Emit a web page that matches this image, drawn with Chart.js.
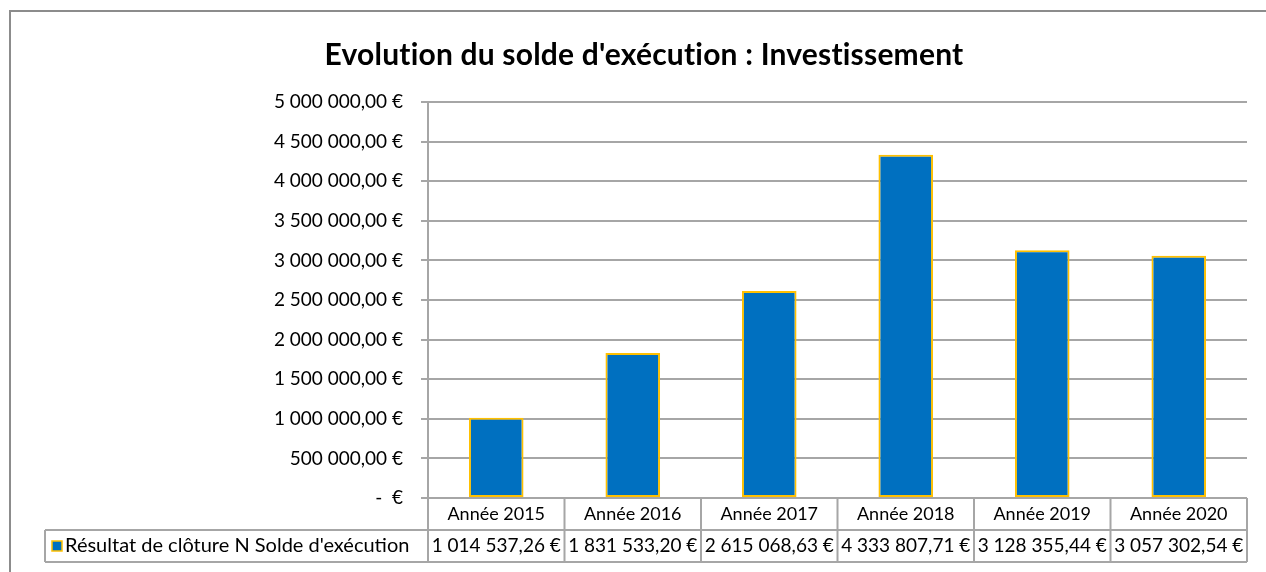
<!DOCTYPE html>
<html>
<head>
<meta charset="utf-8">
<script src="https://cdn.jsdelivr.net/npm/chart.js@4/dist/chart.umd.min.js"></script>
<style>
  html, body { margin: 0; padding: 0; background: #fff; }
  #wrap { width: 1266px; height: 572px; position: relative; }
</style>
</head>
<body>
<div id="wrap"><canvas id="chartSolde"></canvas></div>
<script>
/* Evolution du solde d'exécution : Investissement */

const TITLE = "Evolution du solde d'exécution : Investissement";
const SERIES_LABEL = "Résultat de clôture N Solde d'exécution";
const YEARS = ['Année 2015', 'Année 2016', 'Année 2017', 'Année 2018', 'Année 2019', 'Année 2020'];
const SOLDE = [1014537.26, 1831533.20, 2615068.63, 4333807.71, 3128355.44, 3057302.54];
const Y_MAX = 5000000;
const Y_STEP = 500000;

const BAR_FILL = '#0070C0';
const BAR_EDGE = '#FFC000';
const LINE_GREY = '#a6a6a6';
const FONT = 'Lato, "Open Sans", sans-serif';

function fmtEuro(v) {
  if (!v) return '-  €';
  const parts = v.toFixed(2).split('.');
  const ent = parts[0].replace(/\B(?=(\d{3})+(?!\d))/g, ' ');
  return ent + ',' + parts[1] + ' €';
}

// cadre, titre et tableau de données sous l'axe
const tablePlugin = {
  id: 'dataTable',
  afterDraw(chart) {
    const ctx = chart.ctx;
    const x = chart.scales.x;
    const area = chart.chartArea;
    const n = YEARS.length;
    const colW = (x.right - x.left) / n;
    const rowH = 32;
    const top1 = area.bottom, top2 = area.bottom + rowH, bot = area.bottom + rowH * 2;
    const legLeft = 45;

    ctx.save();
    // cadre du graphique
    ctx.strokeStyle = '#8c8c8c';
    ctx.lineWidth = 2;
    ctx.beginPath();
    ctx.moveTo(10, chart.height);
    ctx.lineTo(10, 11);
    ctx.lineTo(chart.width, 11);
    ctx.stroke();

    // titre
    ctx.fillStyle = '#000';
    ctx.font = 'bold 30px ' + FONT;
    ctx.textAlign = 'center';
    ctx.textBaseline = 'middle';
    ctx.letterSpacing = '0.2px';
    ctx.fillText(TITLE, 644, 55);
    ctx.letterSpacing = '0px';

    // lignes du tableau
    ctx.strokeStyle = LINE_GREY;
    ctx.lineWidth = 2;
    ctx.beginPath();
    ctx.moveTo(legLeft, top2); ctx.lineTo(x.right, top2);
    ctx.moveTo(legLeft, bot); ctx.lineTo(x.right, bot);
    ctx.moveTo(legLeft, top2); ctx.lineTo(legLeft, bot);
    for (let i = 0; i <= n; i++) {
      const px = x.left + colW * i;
      ctx.moveTo(px, top1); ctx.lineTo(px, bot);
    }
    ctx.stroke();

    // textes
    ctx.fillStyle = '#000';
    ctx.textAlign = 'center';
    YEARS.forEach((lab, i) => {
      const cx = x.getPixelForValue(i);
      ctx.font = '18px ' + FONT;
      ctx.fillText(lab, cx, (top1 + top2) / 2);
      ctx.font = '19px ' + FONT;
      ctx.fillText(fmtEuro(SOLDE[i]), cx, (top2 + bot) / 2);
    });

    // légende
    const ky = (top2 + bot) / 2;
    ctx.fillStyle = BAR_FILL;
    ctx.fillRect(52, ky - 5, 10, 10);
    ctx.strokeStyle = BAR_EDGE;
    ctx.lineWidth = 1.5;
    ctx.strokeRect(52, ky - 5, 10, 10);
    ctx.fillStyle = '#000';
    ctx.textAlign = 'left';
    ctx.font = '20px ' + FONT;
    ctx.fillText(SERIES_LABEL, 65, ky);
    ctx.restore();
  }
};

new Chart(document.getElementById('chartSolde'), {
  type: 'bar',
  data: {
    labels: YEARS,
    datasets: [{
      label: SERIES_LABEL,
      data: SOLDE,
      backgroundColor: BAR_FILL,
      borderColor: BAR_EDGE,
      borderWidth: 2,
      borderSkipped: false,
      barPercentage: 0.4,
      categoryPercentage: 1
    }]
  },
  options: {
    responsive: true,
    maintainAspectRatio: false,
    animation: false,
    layout: { padding: { top: 102, right: 19, bottom: 74, left: 0 } },
    plugins: {
      legend: { display: false },
      title: { display: false },
      tooltip: { enabled: false }
    },
    scales: {
      x: { display: false },
      y: {
        min: 0,
        max: Y_MAX,
        afterFit(scale) { scale.width = 428; },
        ticks: {
          stepSize: Y_STEP,
          color: '#000',
          font: { family: FONT, size: 19 },
          padding: 18,
          callback: v => fmtEuro(v)
        },
        grid: { color: LINE_GREY, lineWidth: 2, tickLength: 7 },
        border: { display: true, color: LINE_GREY, width: 2 }
      }
    }
  },
  plugins: [tablePlugin]
});
</script>
</body>
</html>
